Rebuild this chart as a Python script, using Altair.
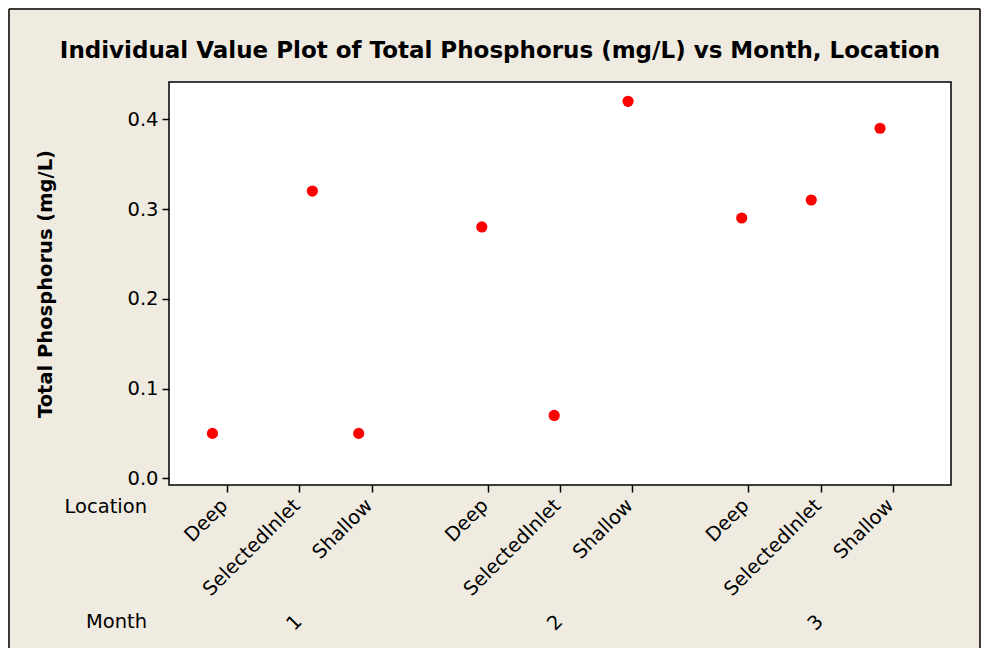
import altair as alt
import pandas as pd

# ---- data ----
months = [1, 1, 1, 2, 2, 2, 3, 3, 3]
locations = ["Deep", "SelectedInlet", "Shallow",
             "Deep", "SelectedInlet", "Shallow",
             "Deep", "SelectedInlet", "Shallow"]
total_p = [0.05, 0.32, 0.05, 0.28, 0.07, 0.42, 0.29, 0.31, 0.39]
jitter = [-0.20, 0.18, -0.18, -0.08, -0.08, -0.06, -0.09, -0.13, -0.18]
location_order = ["Deep", "SelectedInlet", "Shallow"]
month_labels = ["1", "2", "3"]
y_ticks = [0.0, 0.1, 0.2, 0.3, 0.4]
group_step = 3.6
title_text = "Individual Value Plot of Total Phosphorus (mg/L) vs Month, Location"

FONT = "DejaVu Sans"
FS = 19.5
BG = "#EFEBE1"

df = pd.DataFrame({"Month": months, "Location": locations,
                   "TP": total_p, "Jitter": jitter})

tick_pos = [g * group_step + i for g in range(len(month_labels))
            for i in range(len(location_order))]
loc_js = "[" + ",".join(f"'{l}'" for l in location_order) + "]"
pos_js = "[" + ",".join(repr(p) for p in tick_pos) + "]"
label_expr = f"{loc_js}[indexof({pos_js}, datum.value) % 3]"

W, H = 782, 403
PL, PT, PR, PB = 161, 74, 30, 163

x_scale = alt.Scale(domain=[-0.8, 10.0], nice=False, zero=False)
y_scale = alt.Scale(domain=[-0.0075, 0.4415], nice=False, zero=False)

points = alt.Chart(df).transform_calculate(
    xpos=f"(datum.Month - 1) * {group_step} + indexof({loc_js}, datum.Location) + datum.Jitter"
).mark_circle(size=125, color="#FF0000", opacity=1).encode(
    x=alt.X("xpos:Q", scale=x_scale,
            axis=alt.Axis(values=tick_pos, labelExpr=label_expr, title=None,
                          labelAngle=315, labelAlign="right", labelBaseline="middle",
                          labelFont=FONT, labelFontSize=FS, labelColor="black",
                          tickSize=7, tickColor="black", tickWidth=1.5,
                          labelPadding=10, labelOffset=-3,
                          domain=False, grid=False, labelOverlap=False)),
    y=alt.Y("TP:Q", scale=y_scale,
            axis=alt.Axis(values=y_ticks, format=".1f",
                          title="Total Phosphorus (mg/L)",
                          titleFont=FONT, titleFontSize=19.5, titleFontWeight="bold",
                          titleColor="black", titleAngle=270,
                          titleX=-124, titleY=H / 2, titleAlign="center",
                          titleBaseline="middle",
                          labelFont=FONT, labelFontSize=FS, labelColor="black",
                          tickSize=7, tickColor="black", tickWidth=1.5,
                          labelPadding=4, domain=False, grid=False)),
)

month_df = pd.DataFrame({"Month": month_labels,
                         "pos": [g * group_step + 1 for g in range(len(month_labels))]})
month_text = alt.Chart(month_df).mark_text(
    angle=315, font=FONT, fontSize=FS, color="black",
    align="center", baseline="middle", dx=-7
).encode(x=alt.X("pos:Q", scale=x_scale), y=alt.value(536), text="Month:N")

row_df = pd.DataFrame({"label": ["Location", "Month"], "ypix": [425, 540]})
row_text = alt.Chart(row_df).mark_text(
    font=FONT, fontSize=FS, color="black", align="right", baseline="middle"
).encode(x=alt.value(-22), y=alt.Y("ypix:Q", scale=None), text="label:N")

title_df = pd.DataFrame({"t": [title_text]})
title_mark = alt.Chart(title_df).mark_text(
    font=FONT, fontSize=23, fontWeight="bold", color="black",
    align="center", baseline="middle"
).encode(x=alt.value(331), y=alt.value(-31), text="t:N")

frame_df = pd.DataFrame({"x1": [-160, -160, W + PR - 1],
                         "x2": [-160, W + PR - 1, W + PR - 1],
                         "y1": [-PT + 1, -PT + 1, -PT + 1],
                         "y2": [H + PB, -PT + 1, H + PB]})
frame = alt.Chart(frame_df).mark_rule(color="black", strokeWidth=1.5).encode(
    x=alt.X("x1:Q", scale=None), x2="x2:Q",
    y=alt.Y("y1:Q", scale=None), y2="y2:Q")

chart = alt.layer(points, month_text, row_text, title_mark, frame).properties(
    width=W, height=H,
    autosize=alt.AutoSizeParams(type="none"),
    padding={"left": PL, "top": PT, "right": PR, "bottom": PB},
    background=BG,
).configure_view(
    fill="white", stroke="black", strokeWidth=1.5
)

chart.save("out.html", embed_options={"renderer": "svg", "actions": False})
